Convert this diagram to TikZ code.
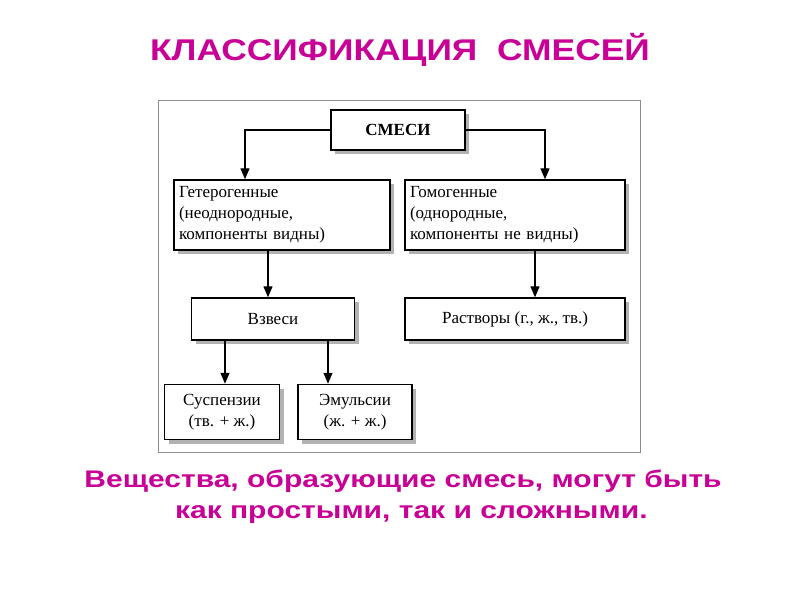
\documentclass[tikz,border=0pt]{standalone}
\usepackage{fontspec}
\setmainfont{Liberation Serif}
\newfontfamily\hsans{Liberation Sans}
\usetikzlibrary{arrows.meta,shadows}
\definecolor{mag}{RGB}{200,0,150}
\begin{document}
\begin{tikzpicture}[x=1pt,y=-1pt,
 bx/.style={draw=black,line width=1.4pt,fill=white,drop shadow={shadow xshift=4pt,shadow yshift=-4pt,fill=black!30,opacity=1},font=\fontsize{17}{21}\selectfont,align=left,inner sep=0pt},
 ar/.style={line width=1.3pt,-{Triangle[length=11pt,width=9pt]}}]
\useasboundingbox (0,0) rectangle (800,600);
\node[font=\hsans\bfseries\fontsize{30}{32}\selectfont,text=mag,xscale=1.18,transform shape] (t) at (400,50) {КЛАССИФИКАЦИЯ\ \ СМЕСЕЙ};
\draw[draw=black!45,line width=1pt] (158,100) rectangle (640,452);
\node[bx,minimum width=134,minimum height=40,font=\bfseries\fontsize{17}{19}\selectfont] (s) at (398,130) {СМЕСИ};
\node[bx,minimum width=216,minimum height=70,text width=206] (he) at (282,215) {Гетерогенные\\(неоднородные,\\компоненты видны)};
\node[bx,minimum width=220,minimum height=70,text width=210] (ho) at (515,215) {Гомогенные\\(однородные,\\компоненты не видны)};
\node[bx,minimum width=163,minimum height=42] (v) at (273,319) {Взвеси};
\node[bx,minimum width=220,minimum height=42] (r) at (515,319) {Растворы (г., ж., тв.)};
\node[bx,minimum width=115,minimum height=55,align=center] (su) at (222,412) {Суспензии\\(тв. + ж.)};
\node[bx,minimum width=114,minimum height=55,align=center] (em) at (355,412) {Эмульсии\\(ж. + ж.)};
\draw[ar] (s.west) -| (he.north -| 245,0);
\draw[ar] (s.east) -| (ho.north -| 545,0);
\draw[ar] (he.south -| 268,0) -- (v.north -| 268,0);
\draw[ar] (ho.south -| 535,0) -- (r.north -| 535,0);
\draw[ar] (v.south -| 225,0) -- (su.north -| 225,0);
\draw[ar] (v.south -| 328,0) -- (em.north -| 328,0);
\node[font=\hsans\bfseries\fontsize{24}{31}\selectfont,text=mag,align=center,xscale=1.25,transform shape] (b) at (403,497) {Вещества, образующие смесь, могут быть\\\ \ как простыми, так и сложными.};
\end{tikzpicture}
\end{document}
